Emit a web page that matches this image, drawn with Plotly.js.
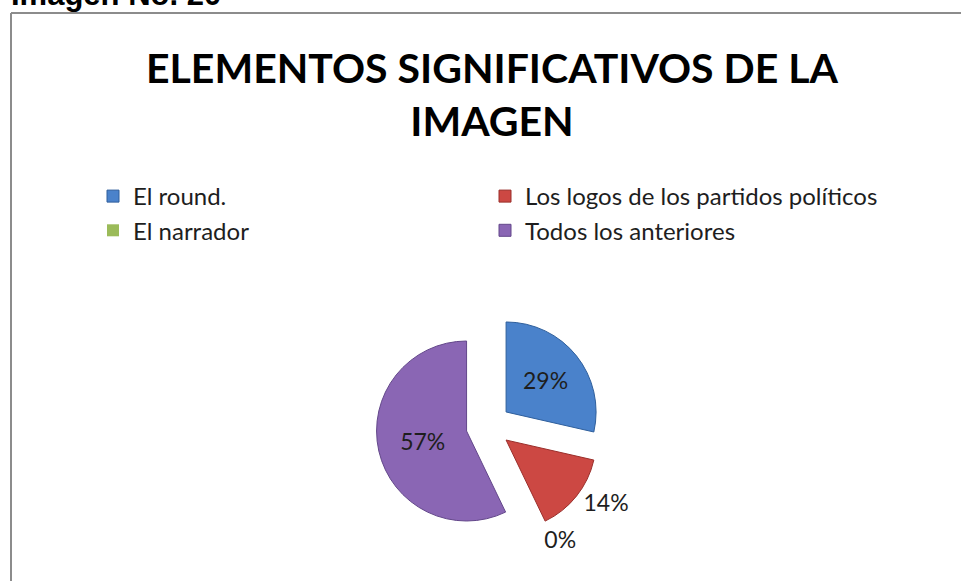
<!DOCTYPE html>
<html>
<head>
<meta charset="utf-8">
<script src="https://cdn.plot.ly/plotly-3.0.1.min.js"></script>
<style>
  html, body { margin: 0; padding: 0; background: #ffffff; }
  #chart { width: 961px; height: 581px; }
</style>
</head>
<body>
<div id="chart"></div>
<script>
// ---- data ----
const categories = ["El round.", "Los logos de los partidos políticos", "El narrador", "Todos los anteriores"];
const counts = [2, 1, 0, 4];
const sliceColors = ["#4a82cb", "#cc4843", "#9bbb59", "#8a66b4"];
const sliceEdges = ["#2f5f9c", "#9a2f2b", "#6f8c38", "#63478a"];
const sliceEdgeWidths = [1, 1, 0, 1];
const textPositions = ["inside", "outside", "outside", "inside"];
const chartTitle = "ELEMENTOS SIGNIFICATIVOS DE LA<br>IMAGEN";
const headerText = "Imagen No. 20";

const W = 961, H = 581;
const px = x => x / W;
const py = y => 1 - y / H;

const labelFont = "Lato, 'Open Sans', sans-serif";

const trace = {
  type: "pie",
  labels: categories,
  values: counts,
  sort: false,
  direction: "clockwise",
  rotation: 0,
  pull: 0.25,
  marker: { colors: sliceColors, line: { color: sliceEdges, width: sliceEdgeWidths } },
  textinfo: "percent",
  texttemplate: "%{percent:.0%}",
  textposition: textPositions,
  insidetextorientation: "horizontal",
  textfont: { family: labelFont, size: 23, color: "#1e1e1e" },
  outsidetextfont: { family: labelFont, size: 23, color: "#1e1e1e" },
  domain: { x: [px(376), px(601)], y: [py(539), py(313)] },
  hoverinfo: "label+percent",
  automargin: false
};

const layout = {
  width: W,
  height: H,
  margin: { l: 0, r: 0, t: 0, b: 0 },
  paper_bgcolor: "#ffffff",
  showlegend: true,
  title: {
    text: chartTitle,
    x: px(492),
    xanchor: "center",
    y: py(83),
    yanchor: "top",
    font: { family: labelFont, size: 41, color: "#000000", weight: "bold" }
  },
  legend: {
    orientation: "h",
    x: px(93),
    xanchor: "left",
    y: py(174),
    yanchor: "top",
    itemwidth: 30,
    entrywidth: 347,
    entrywidthmode: "pixels",
    traceorder: "normal",
    font: { family: labelFont, size: 24, color: "#1e1e1e" },
    bgcolor: "rgba(0,0,0,0)"
  },
  shapes: [
    { type: "line", xref: "paper", yref: "paper", x0: px(11), x1: px(11), y0: 0, y1: py(13), line: { color: "#8c8c8c", width: 2 } },
    { type: "line", xref: "paper", yref: "paper", x0: px(11), x1: 1, y0: py(13), y1: py(13), line: { color: "#8c8c8c", width: 2 } }
  ],
  annotations: [
    {
      text: "<b>" + headerText + "</b>",
      xref: "paper", yref: "paper",
      x: px(9), xanchor: "left",
      y: py(14), yanchor: "bottom",
      showarrow: false,
      font: { family: "'Liberation Sans', Arial, sans-serif", size: 31, color: "#000000" }
    }
  ]
};

Plotly.newPlot("chart", [trace], layout, { displayModeBar: false, responsive: false });
</script>
</body>
</html>
